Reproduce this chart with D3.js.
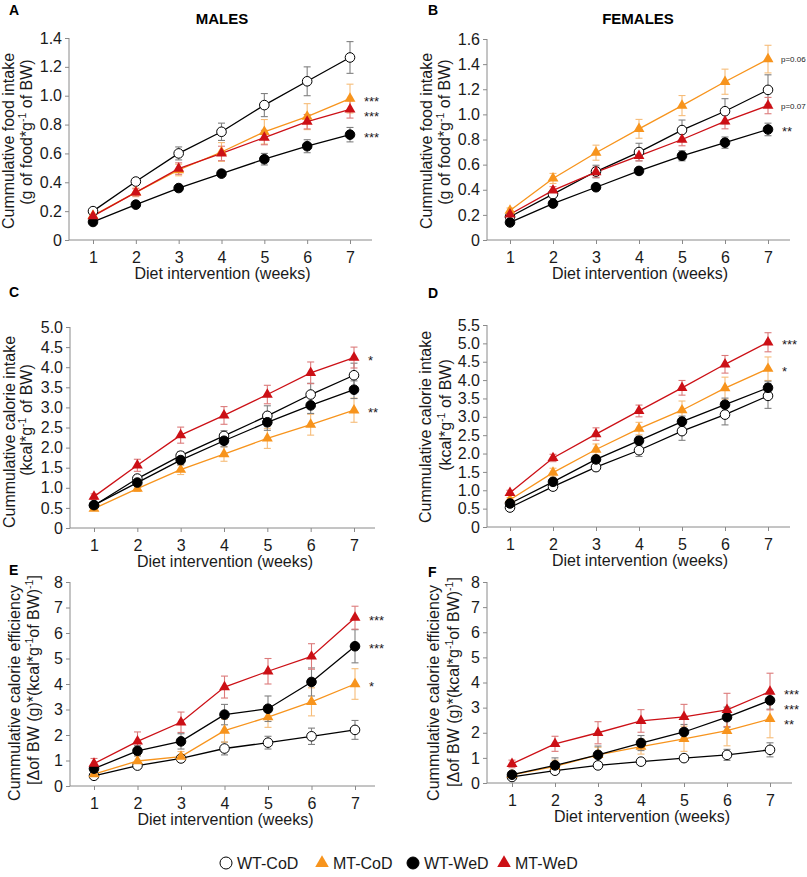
<!DOCTYPE html>
<html><head><meta charset="utf-8">
<script src="https://cdn.jsdelivr.net/npm/d3@7"></script>
<style>body{margin:0;background:#fff} svg{display:block;font-family:"Liberation Sans",Arial,Helvetica,sans-serif}</style>
</head><body><svg id="c" width="807" height="877"></svg>
<script>
// ---------- DATA ----------
const weeks = [1, 2, 3, 4, 5, 6, 7];
const groups = ["WT-CoD", "MT-CoD", "WT-WeD", "MT-WeD"];

// A: males, cumulative food intake
const A_WTCoD = [0.20, 0.405, 0.60, 0.75, 0.935, 1.10, 1.265];
const A_WTCoD_err = [0.015, 0.02, 0.045, 0.06, 0.08, 0.10, 0.11];
const A_MTCoD = [0.17, 0.33, 0.485, 0.61, 0.75, 0.855, 0.98];
const A_MTCoD_err = [0.015, 0.03, 0.04, 0.065, 0.085, 0.09, 0.10];
const A_WTWeD = [0.125, 0.245, 0.36, 0.46, 0.56, 0.65, 0.73];
const A_WTWeD_err = [0.01, 0.015, 0.02, 0.02, 0.04, 0.045, 0.05];
const A_MTWeD = [0.165, 0.33, 0.495, 0.60, 0.71, 0.82, 0.905];
const A_MTWeD_err = [0.01, 0.025, 0.04, 0.05, 0.05, 0.05, 0.06];

// B: females, cumulative food intake
const B_WTCoD = [0.185, 0.365, 0.545, 0.70, 0.875, 1.025, 1.195];
const B_WTCoD_err = [0.015, 0.03, 0.05, 0.07, 0.08, 0.10, 0.12];
const B_MTCoD = [0.235, 0.49, 0.695, 0.885, 1.07, 1.26, 1.44];
const B_MTCoD_err = [0.02, 0.04, 0.06, 0.075, 0.08, 0.10, 0.11];
const B_WTWeD = [0.14, 0.29, 0.42, 0.55, 0.67, 0.775, 0.88];
const B_WTWeD_err = [0.01, 0.015, 0.02, 0.025, 0.04, 0.045, 0.05];
const B_MTWeD = [0.205, 0.395, 0.54, 0.67, 0.80, 0.945, 1.07];
const B_MTWeD_err = [0.015, 0.03, 0.04, 0.04, 0.05, 0.06, 0.065];

// C: males, cumulative calorie intake
const C_WTCoD = [0.56, 1.23, 1.80, 2.29, 2.79, 3.32, 3.80];
const C_WTCoD_err = [0.05, 0.07, 0.10, 0.13, 0.25, 0.28, 0.30];
const C_MTCoD = [0.48, 0.98, 1.45, 1.84, 2.23, 2.57, 2.93];
const C_MTCoD_err = [0.04, 0.07, 0.12, 0.18, 0.25, 0.26, 0.30];
const C_WTWeD = [0.57, 1.13, 1.69, 2.17, 2.63, 3.05, 3.44];
const C_WTWeD_err = [0.05, 0.08, 0.12, 0.15, 0.20, 0.20, 0.22];
const C_MTWeD = [0.78, 1.56, 2.31, 2.80, 3.32, 3.86, 4.24];
const C_MTWeD_err = [0.07, 0.15, 0.20, 0.22, 0.23, 0.27, 0.26];

// D: females, cumulative calorie intake
const D_WTCoD = [0.53, 1.10, 1.63, 2.09, 2.61, 3.06, 3.57];
const D_WTCoD_err = [0.05, 0.10, 0.10, 0.17, 0.25, 0.28, 0.34];
const D_MTCoD = [0.74, 1.48, 2.11, 2.68, 3.18, 3.78, 4.31];
const D_MTCoD_err = [0.06, 0.12, 0.15, 0.17, 0.25, 0.30, 0.32];
const D_WTWeD = [0.64, 1.23, 1.84, 2.35, 2.87, 3.33, 3.79];
const D_WTWeD_err = [0.05, 0.08, 0.10, 0.12, 0.15, 0.18, 0.18];
const D_MTWeD = [0.93, 1.88, 2.53, 3.16, 3.79, 4.43, 5.03];
const D_MTWeD_err = [0.07, 0.10, 0.17, 0.16, 0.20, 0.24, 0.26];

// E: males, cumulative calorie efficiency
const E_WTCoD = [0.40, 0.80, 1.08, 1.47, 1.70, 1.95, 2.20];
const E_WTCoD_err = [0.05, 0.08, 0.10, 0.25, 0.25, 0.32, 0.37];
const E_MTCoD = [0.47, 0.98, 1.15, 2.17, 2.70, 3.30, 4.00];
const E_MTCoD_err = [0.05, 0.20, 0.20, 0.45, 0.40, 0.55, 0.60];
const E_WTWeD = [0.68, 1.38, 1.75, 2.80, 3.03, 4.08, 5.48];
const E_WTWeD_err = [0.15, 0.20, 0.30, 0.40, 0.50, 0.55, 0.65];
const E_MTWeD = [0.88, 1.75, 2.50, 3.88, 4.50, 5.08, 6.60];
const E_MTWeD_err = [0.20, 0.37, 0.40, 0.43, 0.50, 0.50, 0.45];

// F: females, cumulative calorie efficiency
const F_WTCoD = [0.24, 0.49, 0.70, 0.85, 0.99, 1.12, 1.32];
const F_WTCoD_err = [0.05, 0.08, 0.12, 0.10, 0.10, 0.22, 0.28];
const F_MTCoD = [0.32, 0.66, 1.12, 1.45, 1.76, 2.08, 2.55];
const F_MTCoD_err = [0.08, 0.25, 0.30, 0.30, 0.50, 0.60, 0.75];
const F_WTWeD = [0.33, 0.70, 1.12, 1.59, 2.03, 2.62, 3.29];
const F_WTWeD_err = [0.08, 0.30, 0.35, 0.30, 0.30, 0.40, 0.35];
const F_MTWeD = [0.76, 1.56, 2.00, 2.47, 2.63, 2.91, 3.64];
const F_MTWeD_err = [0.15, 0.30, 0.44, 0.45, 0.50, 0.66, 0.73];

// tick labels
const ticksA = ["0", "0.2", "0.4", "0.6", "0.8", "1.0", "1.2", "1.4"];
const ticksB = ["0", "0.2", "0.4", "0.6", "0.8", "1.0", "1.2", "1.4", "1.6"];
const ticksC = ["0", "0.5", "1.0", "1.5", "2.0", "2.5", "3.0", "3.5", "4.0", "4.5", "5.0"];
const ticksD = ["0", "0.5", "1.0", "1.5", "2.0", "2.5", "3.0", "3.5", "4.0", "4.5", "5.0", "5.5"];
const ticksEF = ["0", "1", "2", "3", "4", "5", "6", "7", "8"];

// significance annotations [group, label]
const annA = [["MT-CoD", "***"], ["MT-WeD", "***"], ["WT-WeD", "***"]];
const annB = [["MT-CoD", "p=0.06"], ["MT-WeD", "p=0.07"], ["WT-WeD", "**"]];
const annC = [["MT-WeD", "*"], ["MT-CoD", "**"]];
const annD = [["MT-WeD", "***"], ["MT-CoD", "*"]];
const annE = [["MT-WeD", "***"], ["WT-WeD", "***"], ["MT-CoD", "*"]];
const annF = [["MT-WeD", "***"], ["WT-WeD", "***"], ["MT-CoD", "**"]];

const xTitle = "Diet intervention (weeks)";
const yTitleFood = ["Cummulative food intake", [["(g of food*g", 0], ["-1", 1], [" of BW)", 0]]];
const yTitleCal = ["Cummulative calorie intake", [["(kcal*g", 0], ["-1", 1], [" of BW)", 0]]];
const yTitleEff = ["Cummulative calorie efficiency", [["[\u0394of BW (g)*(kcal*g", 0], ["-1", 1], ["of BW)", 0], ["-1", 1], ["]", 0]]];

// ---------- STYLE ----------
const colors = {"WT-CoD": "#000", "MT-CoD": "#f7941d", "WT-WeD": "#000", "MT-WeD": "#cc1016"};
const errColors = {"WT-CoD": "#808080", "MT-CoD": "#f6bc78", "WT-WeD": "#808080", "MT-WeD": "#dc7a7a"};
const fills = {"WT-CoD": "#fff", "MT-CoD": "#f7941d", "WT-WeD": "#000", "MT-WeD": "#cc1016"};
const shapes = {"WT-CoD": "circle", "MT-CoD": "tri", "WT-WeD": "circle", "MT-WeD": "tri"};
const axisColor = "#8a8a8a";

const panels = [
  {id: "A", s: [A_WTCoD, A_MTCoD, A_WTWeD, A_MTWeD], e: [A_WTCoD_err, A_MTCoD_err, A_WTWeD_err, A_MTWeD_err], ticks: ticksA, max: 1.4, ann: annA, yt: yTitleFood,
   ax: 69, x1: 93, x7: 350, xEnd: 372, y0: 240, yTop: 38, t1: 55, t2: 37, c1: 141, c2: 132, lx: 9, ly: 15},
  {id: "B", s: [B_WTCoD, B_MTCoD, B_WTWeD, B_MTWeD], e: [B_WTCoD_err, B_MTCoD_err, B_WTWeD_err, B_MTWeD_err], ticks: ticksB, max: 1.6, ann: annB, yt: yTitleFood,
   ax: 487, x1: 510, x7: 768, xEnd: 790, y0: 240, yTop: 39, t1: 55, t2: 37, c1: 141, c2: 132, lx: 428, ly: 15},
  {id: "C", s: [C_WTCoD, C_MTCoD, C_WTWeD, C_MTWeD], e: [C_WTCoD_err, C_MTCoD_err, C_WTWeD_err, C_MTWeD_err], ticks: ticksC, max: 5.0, ann: annC, yt: yTitleCal,
   ax: 70, x1: 94, x7: 354, xEnd: 375, y0: 528, yTop: 327, t1: 55, t2: 38, c1: 432, c2: 420, lx: 9, ly: 297},
  {id: "D", s: [D_WTCoD, D_MTCoD, D_WTWeD, D_MTWeD], e: [D_WTCoD_err, D_MTCoD_err, D_WTWeD_err, D_MTWeD_err], ticks: ticksD, max: 5.5, ann: annD, yt: yTitleCal,
   ax: 487, x1: 510, x7: 768, xEnd: 790, y0: 527, yTop: 325, t1: 56, t2: 36, c1: 427, c2: 415, lx: 428, ly: 298},
  {id: "E", s: [E_WTCoD, E_MTCoD, E_WTWeD, E_MTWeD], e: [E_WTCoD_err, E_MTCoD_err, E_WTWeD_err, E_MTWeD_err], ticks: ticksEF, max: 8, ann: annE, yt: yTitleEff,
   ax: 70, x1: 94, x7: 355, xEnd: 375, y0: 786, yTop: 582, t1: 50, t2: 31, c1: 693, c2: 680, lx: 9, ly: 575},
  {id: "F", s: [F_WTCoD, F_MTCoD, F_WTWeD, F_MTWeD], e: [F_WTCoD_err, F_MTCoD_err, F_WTWeD_err, F_MTWeD_err], ticks: ticksEF, max: 8, ann: annF, yt: yTitleEff,
   ax: 487, x1: 512, x7: 770, xEnd: 792, y0: 783, yTop: 582, t1: 48, t2: 28, c1: 693, c2: 682, lx: 428, ly: 577}
];

const svg = d3.select("#c");
const FONT = 16;

function marker(g, grp, cx, cy, big) {
  if (shapes[grp] === "circle") {
    g.append("circle").attr("cx", cx).attr("cy", cy).attr("r", big ? 6 : 4.8)
      .attr("fill", fills[grp]).attr("stroke", "#000").attr("stroke-width", 1);
  } else {
    g.append("path").attr("d", d3.symbol(d3.symbolTriangle, big ? 80 : 52)())
      .attr("transform", `translate(${cx},${cy})`).attr("fill", fills[grp]);
  }
}

panels.forEach(p => {
  const g = svg.append("g");
  const x = d3.scaleLinear().domain([1, 7]).range([p.x1, p.x7]);
  const y = d3.scaleLinear().domain([0, p.max]).range([p.y0, p.yTop]);
  const tickVals = p.ticks.map(Number);

  // y axis
  const yAxis = g.append("g").attr("transform", `translate(${p.ax},0)`)
    .call(d3.axisLeft(y).tickValues(tickVals).tickFormat((d, i) => p.ticks[i]).tickSize(4).tickPadding(3));
  yAxis.select(".domain").attr("stroke", axisColor).attr("d", `M0,${p.y0}V${p.yTop}`);
  yAxis.selectAll(".tick line").attr("stroke", axisColor);
  yAxis.selectAll(".tick text").attr("fill", "#1a1a1a").attr("font-size", FONT).attr("font-family", "Liberation Sans, Arial, sans-serif");

  // x axis
  const xAxis = g.append("g").attr("transform", `translate(0,${p.y0})`)
    .call(d3.axisBottom(x).tickValues(weeks).tickFormat(d3.format("d")).tickSize(4).tickPadding(8));
  xAxis.select(".domain").attr("stroke", axisColor).attr("d", `M${p.ax},0H${p.xEnd}`);
  xAxis.selectAll(".tick line").attr("stroke", axisColor);
  xAxis.selectAll(".tick text").attr("fill", "#1a1a1a").attr("font-size", FONT).attr("font-family", "Liberation Sans, Arial, sans-serif");

  g.append("text").attr("x", (p.x1 + p.x7) / 2 + 1).attr("y", p.y0 + 39)
    .attr("text-anchor", "middle").attr("font-size", FONT).attr("fill", "#1a1a1a").text(xTitle);

  // y title
  g.append("text").attr("transform", `translate(${p.ax - p.t1},${p.c1}) rotate(-90)`)
    .attr("text-anchor", "middle").attr("font-size", FONT).attr("fill", "#1a1a1a").text(p.yt[0]);
  const t2 = g.append("text").attr("transform", `translate(${p.ax - p.t2},${p.c2}) rotate(-90)`)
    .attr("text-anchor", "middle").attr("font-size", FONT).attr("fill", "#1a1a1a");
  let prevSup = 0;
  p.yt[1].forEach(([txt, sup]) => {
    const ts = t2.append("tspan").text(txt);
    if (sup) { ts.attr("font-size", 10.5).attr("dy", prevSup ? 0 : -6); }
    else { ts.attr("dy", prevSup ? 6 : 0); }
    prevSup = sup;
  });

  // error bars
  groups.forEach((grp, gi) => {
    const vals = p.s[gi], errs = p.e[gi];
    const eg = g.append("g").attr("stroke", errColors[grp]).attr("stroke-width", 1.1);
    weeks.forEach((w, i) => {
      const cx = x(w), yl = y(vals[i] - errs[i]), yh = y(vals[i] + errs[i]);
      eg.append("line").attr("x1", cx).attr("x2", cx).attr("y1", yl).attr("y2", yh);
      eg.append("line").attr("x1", cx - 3.5).attr("x2", cx + 3.5).attr("y1", yl).attr("y2", yl);
      eg.append("line").attr("x1", cx - 3.5).attr("x2", cx + 3.5).attr("y1", yh).attr("y2", yh);
    });
  });
  // lines
  const line = d3.line().x((d, i) => x(weeks[i])).y(d => y(d));
  groups.forEach((grp, gi) => {
    g.append("path").attr("d", line(p.s[gi])).attr("fill", "none")
      .attr("stroke", colors[grp]).attr("stroke-width", 1.3);
  });
  // markers
  groups.forEach((grp, gi) => {
    weeks.forEach((w, i) => marker(g, grp, x(w), y(p.s[gi][i]), false));
  });

  // annotations (placed at the last point of their series, with a minimum vertical gap)
  const anns = p.ann.map(([grp, lab]) => ({lab, vy: y(p.s[groups.indexOf(grp)][6])}))
    .sort((a, b) => a.vy - b.vy);
  let last = -1e9;
  anns.forEach(a => {
    a.vy = Math.max(a.vy, last + 15);
    last = a.vy;
    const small = a.lab.startsWith("p=");
    g.append("text").attr("x", x(7) + (small ? 13 : 14)).attr("y", a.vy + (small ? 3 : 7))
      .attr("font-size", small ? 8 : 13).attr("fill", "#1a1a1a").text(a.lab);
  });

  // panel letter
  g.append("text").attr("x", p.lx).attr("y", p.ly).attr("font-size", 14).attr("font-weight", "bold").text(p.id);
});

// column titles
svg.append("text").attr("x", 222).attr("y", 24).attr("text-anchor", "middle").attr("font-size", 15).attr("font-weight", "bold").text("MALES");
svg.append("text").attr("x", 638).attr("y", 24).attr("text-anchor", "middle").attr("font-size", 15).attr("font-weight", "bold").text("FEMALES");

// legend
const legX = [226, 322, 413, 504];
const lg = svg.append("g");
groups.forEach((grp, i) => {
  marker(lg, grp, legX[i], 863, true);
  lg.append("text").attr("x", legX[i] + 11).attr("y", 869).attr("font-size", FONT).attr("fill", "#1a1a1a").text(grp);
});
</script></body></html>
